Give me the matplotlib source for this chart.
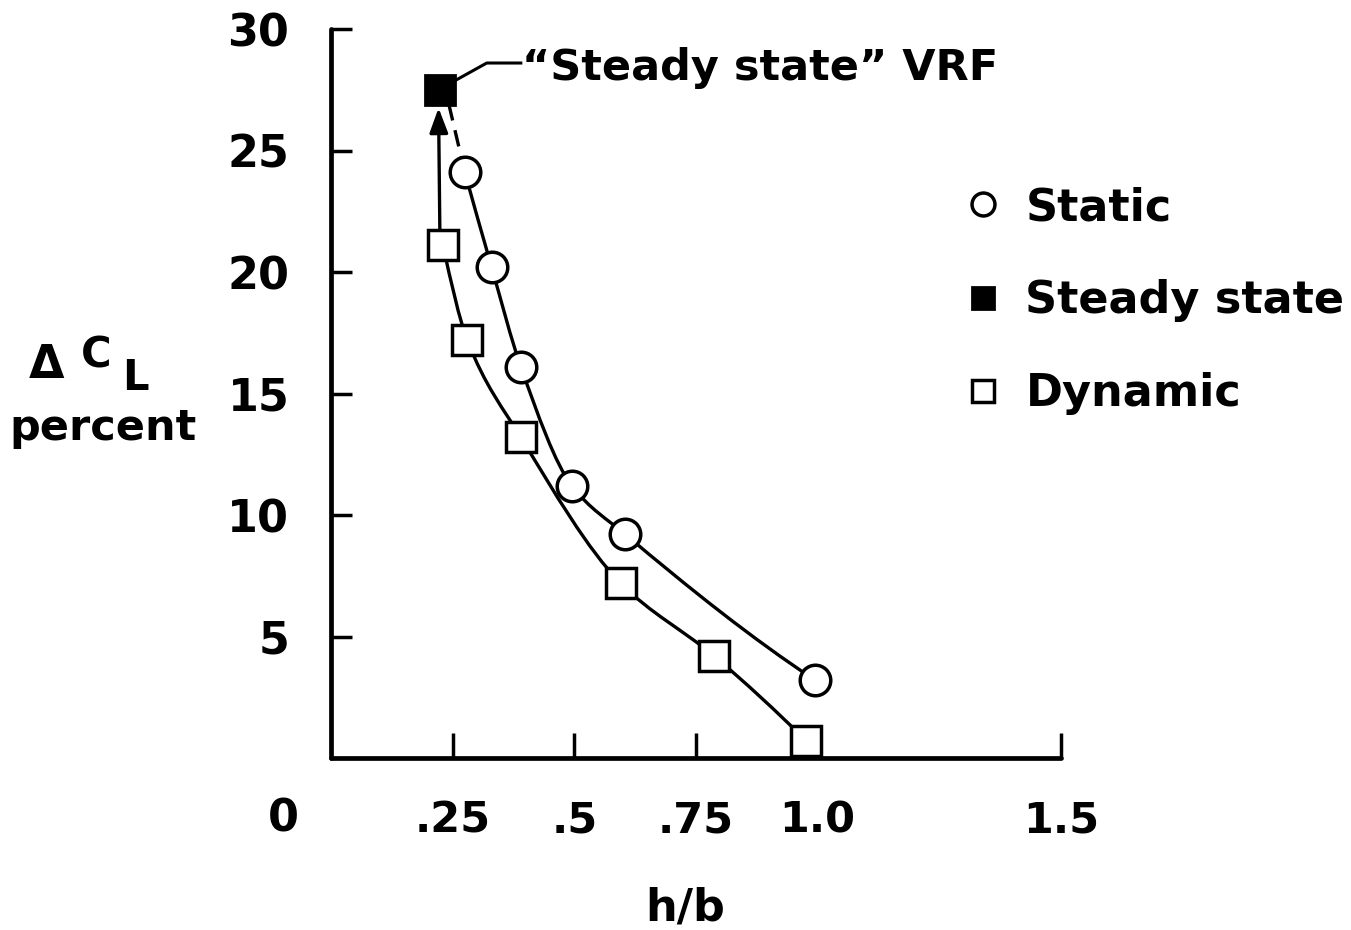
"""Ground-effect lift increment vs height/span: static, dynamic and steady-state VRF."""
import matplotlib

matplotlib.use("Agg")
import matplotlib.pyplot as plt
import numpy as np
from matplotlib.path import Path
from matplotlib.patches import PathPatch

plt.rcParams["font.family"] = ["DejaVu Sans"]
plt.rcParams["font.weight"] = "bold"
plt.rcParams["axes.labelweight"] = "bold"

# data (h/b, delta CL percent)
static_hb = [0.275, 0.33, 0.39, 0.495, 0.605, 0.995]
static_dcl = [24.1, 20.2, 16.1, 11.2, 9.2, 3.2]
dynamic_hb = [0.23, 0.28, 0.39, 0.595, 0.787, 0.977]
dynamic_dcl = [21.1, 17.2, 13.2, 7.2, 4.2, 0.7]
steady_hb = [0.223]
steady_dcl = [27.5]

x_ticks = [0.25, 0.5, 0.75, 1.0, 1.5]
x_ticklabels = [".25", ".5", ".75", "1.0", "1.5"]
y_ticks = [5, 10, 15, 20, 25, 30]


def smooth_path(xs, ys):
    # shape-preserving cubic (pchip slopes) through the points, as Bezier segments
    x, y = np.asarray(xs, float), np.asarray(ys, float)
    h = np.diff(x); d = np.diff(y) / h
    m = np.zeros_like(x)
    for k in range(1, len(x) - 1):
        if d[k - 1] * d[k] > 0:
            w1, w2 = 2 * h[k] + h[k - 1], h[k] + 2 * h[k - 1]
            m[k] = (w1 + w2) / (w1 / d[k - 1] + w2 / d[k])
    def end(h0, h1, d0, d1):
        s = ((2 * h0 + h1) * d0 - h0 * d1) / (h0 + h1)
        if s * d0 <= 0: return 0.0
        if d0 * d1 <= 0 and abs(s) > abs(3 * d0): return 3 * d0
        return s
    m[0] = end(h[0], h[1], d[0], d[1]); m[-1] = end(h[-1], h[-2], d[-1], d[-2])
    verts, codes = [(x[0], y[0])], [Path.MOVETO]
    for k in range(len(x) - 1):
        verts += [(x[k] + h[k] / 3, y[k] + m[k] * h[k] / 3),
                  (x[k + 1] - h[k] / 3, y[k + 1] - m[k + 1] * h[k] / 3),
                  (x[k + 1], y[k + 1])]
        codes += [Path.CURVE4] * 3
    return Path(verts, codes)


W, H = 1351, 930
fig = plt.figure(figsize=(W / 100, H / 100), dpi=100)
ax = fig.add_axes([331 / W, 1 - 758 / H, (1061 - 331) / W, (758 - 29) / H])
ax.set_xlim(0, 1.5)
ax.set_ylim(0, 30)

for s in ("top", "right"):
    ax.spines[s].set_visible(False)
for s in ("left", "bottom"):
    ax.spines[s].set_linewidth(3.4)
    ax.spines[s].set_capstyle("round")

lw = 2.4
for xs, ys in [(static_hb, static_dcl), (dynamic_hb, dynamic_dcl)]:
    ax.add_patch(PathPatch(smooth_path(xs, ys), fill=False, lw=lw, color="black",
                           zorder=2, clip_on=False))

# dashed extension of the static curve to the steady-state point
ax.plot([static_hb[0], steady_hb[0] + 0.018], [static_dcl[0], steady_dcl[0] - 0.5],
        color="black", lw=lw, ls=(0, (5, 3)), zorder=2)
# arrow from the dynamic curve up to the steady-state point
ax.annotate("", xy=(steady_hb[0] - 0.002, steady_dcl[0] - 0.75),
            xytext=(dynamic_hb[0] - 0.006, dynamic_dcl[0]),
            arrowprops=dict(arrowstyle="-|>,head_length=0.75,head_width=0.28", color="black",
                            lw=lw, shrinkA=0, shrinkB=0, mutation_scale=20), zorder=2)

ms = 22
ax.plot(static_hb, static_dcl, "o", ms=ms, mfc="white", mec="black", mew=2.5,
        zorder=3, clip_on=False, label="Static")
ax.plot(steady_hb, steady_dcl, "s", ms=ms * 1.0, mfc="black", mec="black", mew=2.0,
        zorder=3, clip_on=False, label="Steady state")
ax.plot(dynamic_hb, dynamic_dcl, "s", ms=ms * 0.95, mfc="white", mec="black", mew=2.5,
        zorder=3, clip_on=False, label="Dynamic")

# leader line and callout for the steady-state point
ax.plot([0.257, 0.32, 0.39], [27.9, 28.6, 28.6], color="black", lw=2.2, clip_on=False, zorder=2)
ax.text(0.392, 27.9, "\u201cSteady state\u201d VRF", fontsize=31, va="baseline", ha="left")

ax.set_xticks(x_ticks)
ax.set_xticklabels(x_ticklabels, fontsize=31)
ax.set_yticks(y_ticks)
ax.set_yticklabels([str(v) for v in y_ticks], fontsize=32)
ax.tick_params(axis="x", direction="in", length=18, width=2.5, pad=30)
ax.tick_params(axis="y", direction="in", length=15, width=2.5, pad=30)
ax.text(-0.098, -2.5, "0", fontsize=32, ha="center", va="center", clip_on=False)
ax.set_xlabel("h/b", fontsize=32, labelpad=32, x=(685 - 331) / (1061 - 331))

fig.text(47 / W, 1 - 365 / H, "\u0394", fontsize=33, ha="center", va="center")
fig.text(96 / W, 1 - 355 / H, "C", fontsize=30, ha="center", va="center")
fig.text(135 / W, 1 - 378 / H, "L", fontsize=30, ha="center", va="center")
fig.text(103 / W, 1 - 428 / H, "percent", fontsize=31, ha="center", va="center")

ax.legend(loc="upper left", bbox_to_anchor=(961 / W, 1 - 186 / H), bbox_transform=fig.transFigure,
          frameon=False, prop=dict(weight="bold", size=32), markerscale=0.75,
          handlelength=1.0, handletextpad=0.45, labelspacing=1.13, borderpad=0, borderaxespad=0)

fig.savefig("out.png", dpi=100)
